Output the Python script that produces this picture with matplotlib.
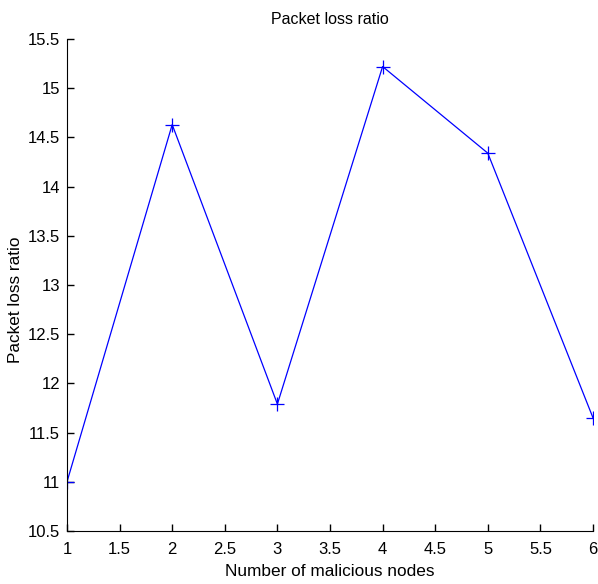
import numpy as np
import matplotlib as mpl
import matplotlib.pyplot as plt

# data
nodes = [1, 2, 3, 4, 5, 6]
loss_ratio = [11.0, 14.63, 11.79, 15.22, 14.34, 11.65]

mpl.rcParams['font.family'] = ['Liberation Sans', 'DejaVu Sans']

fig = plt.figure(figsize=(5.98, 5.84), dpi=100)
ax = fig.add_axes([67/598, 1 - 531/584, (593-67)/598, (531-39)/584])

ax.plot(nodes, loss_ratio, color='blue', marker='+', markersize=10,
        linewidth=0.9, markeredgewidth=0.9)

ax.set_xlim(1, 6)
ax.set_ylim(10.5, 15.5)
ax.set_xticks(np.arange(1, 6.01, 0.5))
ax.set_xticklabels(['1', '1.5', '2', '2.5', '3', '3.5', '4', '4.5', '5', '5.5', '6'])
ax.set_yticks(np.arange(10.5, 15.51, 0.5))
ax.set_yticklabels(['10.5', '11', '11.5', '12', '12.5', '13', '13.5', '14', '14.5', '15', '15.5'])

ax.spines['top'].set_visible(False)
ax.spines['right'].set_visible(False)
ax.tick_params(direction='in', length=5, width=1, labelsize=12)
ax.tick_params(axis='x', pad=8)
ax.tick_params(axis='y', pad=5)

ax.set_xlabel('Number of malicious nodes', fontsize=12.4, labelpad=5)
ax.set_ylabel('Packet loss ratio', fontsize=12.4)
ax.yaxis.set_label_coords(-0.084, 0.47)
ax.set_title('Packet loss ratio', fontsize=11.5, pad=11)

fig.savefig('out.png', dpi=100)
